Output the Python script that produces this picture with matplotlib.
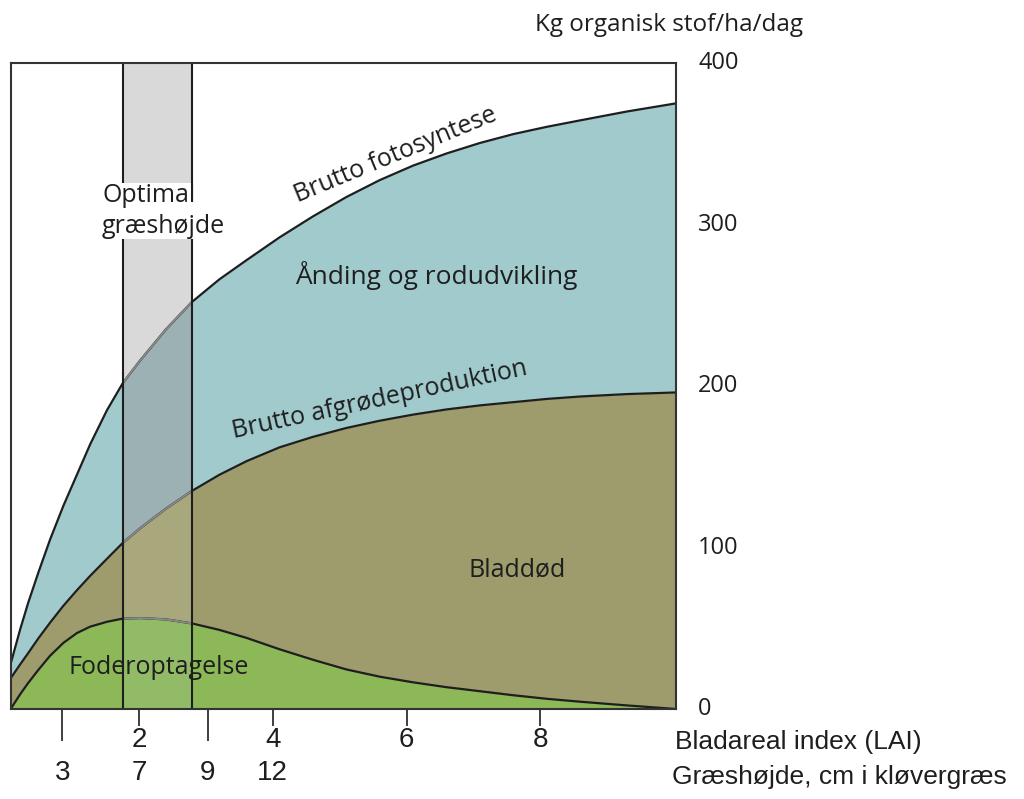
import numpy as np
import matplotlib
matplotlib.use("Agg")
import matplotlib.pyplot as plt
from matplotlib.patches import Rectangle

# ---- data ----
lai = [0.08, 0.22, 0.34, 0.49, 0.67, 0.87, 1.07, 1.27, 1.52, 1.76, 2.02, 2.4, 2.79,
       3.2, 3.61, 4.1, 4.6, 5.1, 5.6, 6.1, 6.6, 7.1, 7.6, 8.1, 8.6, 9.3, 10.03]
brutto_fotosyntese = [28, 49, 65.5, 84, 105, 126, 145, 164, 185, 202, 216, 235, 252,
                      266, 278, 292, 305, 317, 327.5, 336.5, 344, 350.5, 356, 360.5, 364.5, 370, 375]
brutto_afgrode = [19, 27.5, 34.5, 43.5, 53.5, 64, 73.5, 82.5, 93, 103, 112, 124, 135,
                  145, 153.5, 162, 168.5, 174, 178.5, 182.3, 185.5, 188, 190, 192, 193.5, 195, 196]
foderoptagelse = [0, 9, 16, 24, 33, 41, 47, 51, 54, 56, 56.3, 55.5, 53,
                  49, 44, 37, 30.5, 24.5, 20, 16.5, 13.5, 11, 8.5, 6.3, 4.5, 2.2, 0]

lai_ticks = [2, 4, 6, 8]
hoejde_pos = [0.85, 2.0, 3.03, 4.0]
hoejde_labels = ["3", "7", "9", "12"]
y_ticks = [0, 100, 200, 300, 400]
band = (1.76, 2.79)

# ---- colours ----
c_blue, c_olive, c_green = "#a1cacc", "#9e9c6d", "#8cb858"
cb_top, cb_blue, cb_olive, cb_green = "#d9d9d9", "#9bb1b4", "#a9a87c", "#91bb66"
ink = "#1e1e1e"

W, H = 1024, 799
fig = plt.figure(figsize=(W / 100, H / 100), dpi=100)
ax_l, ax_r, ax_t, ax_b = 11, 676, 63, 709
ax = fig.add_axes([ax_l / W, 1 - ax_b / H, (ax_r - ax_l) / W, (ax_b - ax_t) / H])

main_font = ["Open Sans", "DejaVu Sans"]
narrow_font = ["Liberation Sans Narrow", "Liberation Sans", "DejaVu Sans"]

# fills
ax.fill_between(lai, 0, foderoptagelse, color=c_green, lw=0)
ax.fill_between(lai, foderoptagelse, brutto_afgrode, color=c_olive, lw=0)
ax.fill_between(lai, brutto_afgrode, brutto_fotosyntese, color=c_blue, lw=0)
for s in (brutto_fotosyntese, brutto_afgrode, foderoptagelse):
    ax.plot(lai, s, color=ink, lw=1.6, solid_joinstyle="round")

# optimal grass height band (drawn over, clipped)
clip = Rectangle((band[0], 0), band[1] - band[0], 400, transform=ax.transData)
arts = [
    ax.fill_between(lai, brutto_fotosyntese, 400, color=cb_top, lw=0),
    ax.fill_between(lai, brutto_afgrode, brutto_fotosyntese, color=cb_blue, lw=0),
    ax.fill_between(lai, foderoptagelse, brutto_afgrode, color=cb_olive, lw=0),
    ax.fill_between(lai, 0, foderoptagelse, color=cb_green, lw=0),
]
for s in (brutto_fotosyntese, brutto_afgrode, foderoptagelse):
    arts += ax.plot(lai, s, color="#8a8a8a", lw=1.4)
for a in arts:
    a.set_clip_path(clip)
for xb in band:
    ax.axvline(xb, color=ink, lw=1.5)

ax.set_xlim(0.085, 10.03)
ax.set_ylim(0, 400)
for sp in ax.spines.values():
    sp.set_color("#333333")
    sp.set_linewidth(1.5)

# x ticks
ax.set_xticks(lai_ticks)
ax.set_xticklabels([str(t) for t in lai_ticks], family=narrow_font, fontsize=20)
ax.set_xticks([hoejde_pos[0], hoejde_pos[2]], minor=True)
ax.tick_params(axis="x", which="major", length=12, width=1.2, color=ink, pad=1, labelcolor=ink)
ax.tick_params(axis="x", which="minor", length=23, width=1.2, color=ink)
for x, lab in zip(hoejde_pos, hoejde_labels):
    ax.text(x, (ax_b - 773) / (ax_b - ax_t), lab, transform=ax.get_xaxis_transform(),
            ha="center", va="center", fontsize=20, family=narrow_font, color=ink)

# y ticks on right
ax.yaxis.tick_right()
ax.set_yticks(y_ticks)
ax.set_yticklabels([str(t) for t in y_ticks], family=main_font, fontsize=17)
ax.tick_params(axis="y", length=0, pad=16, labelcolor=ink)
for lbl in ax.get_yticklabels():
    lbl.set_verticalalignment("center")


def fx(px):
    return px / W


def fy(py):
    return 1 - py / H


fig.text(fx(535), fy(25), "Kg organisk stof/ha/dag", ha="left", va="center",
         fontsize=17.5, family=main_font, color=ink)
fig.text(fx(675), fy(742), "Bladareal index (LAI)", ha="left", va="center",
         fontsize=19, family=narrow_font, color=ink)
fig.text(fx(672), fy(777), "Græshøjde, cm i kløvergræs", ha="left", va="center",
         fontsize=19, family=narrow_font, color=ink)

fig.text(fx(102), fy(211), "Optimal\ngræshøjde", ha="left", va="center", fontsize=18,
         family=main_font, color=ink, linespacing=1.35,
         bbox=dict(facecolor="white", edgecolor="none", pad=0))
fig.text(fx(395), fy(155), "Brutto fotosyntese", ha="center", va="center", rotation=22.4,
         rotation_mode="anchor", fontsize=18, family=main_font, color=ink)
fig.text(fx(436), fy(275), "Ånding og rodudvikling", ha="center", va="center",
         fontsize=19, family=main_font, color=ink)
fig.text(fx(380), fy(400), "Brutto afgrødeproduktion", ha="center", va="center", rotation=12.2,
         rotation_mode="anchor", fontsize=18, family=main_font, color=ink)
fig.text(fx(517), fy(570), "Bladdød", ha="center", va="center",
         fontsize=18, family=main_font, color=ink)
fig.text(fx(159), fy(668), "Foderoptagelse", ha="center", va="center",
         fontsize=18, family=main_font, color=ink)

fig.savefig("out.png", dpi=100)
